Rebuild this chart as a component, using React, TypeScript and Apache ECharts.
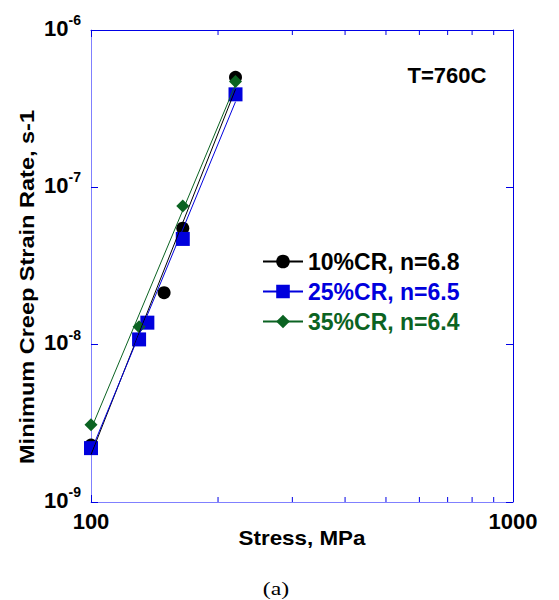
import React, { useEffect, useRef } from "react";
import * as echarts from "echarts";

// Measured data (stress in MPa, minimum creep strain rate in 1/s)
const stress10 = [100, 149, 165, 220];
const rate10 = [2.3e-9, 2.14e-8, 5.5e-8, 5.0e-7];
const stress25 = [100, 130, 136, 165, 220];
const rate25 = [2.2e-9, 1.08e-8, 1.38e-8, 4.7e-8, 3.9e-7];
const stress35 = [100, 130, 165, 220];
const rate35 = [3.1e-9, 1.3e-8, 7.6e-8, 4.7e-7];

// Power-law fit lines (endpoints)
const fitStress = [100, 220];
const fit10 = [2.0e-9, 4.2e-7];
const fit25 = [2.1e-9, 3.5e-7];
const fit35 = [2.9e-9, 4.5e-7];

// Legend names
const names = ["10%CR, n=6.8", "25%CR, n=6.5", "35%CR, n=6.4"];

// Minor ticks on the stress axis
const minorStress = [200, 300, 400, 500, 600, 700, 800, 900];

const FONT = "'Liberation Sans', Arial, sans-serif";
const BLACK = "#000000";
const BLUE = "#0000dd";
const GREEN = "#0b6322";
const AXIS_LIGHT = "#8080ff";
const AXIS_DARK = "#0000e6";

const zip = (xs: number[], ys: number[]) => xs.map((x, i) => [x, ys[i]]);

export default function App() {
  const ref = useRef<HTMLDivElement>(null);
  useEffect(() => {
    if (!ref.current) return;
    const chart = echarts.init(ref.current, null, { renderer: "svg" });
    const yLabelFmt = (v: number) => `{b|10}{s|${Math.round(Math.log10(v))}}`;
    const option: any = {
      animation: false,
      backgroundColor: "#ffffff",
      grid: { left: 91, right: 46, top: 30, bottom: 98 },
      xAxis: [
        {
          type: "log",
          logBase: 10,
          min: 100,
          max: 1000,
          position: "bottom",
          axisLine: { lineStyle: { color: AXIS_LIGHT, width: 1 } },
          axisTick: { inside: true, length: 7, lineStyle: { color: AXIS_DARK } },
          axisLabel: {
            formatter: (v: number) => String(Math.round(v)),
            fontSize: 22,
            fontWeight: "bold",
            color: "#000",
            fontFamily: FONT,
            margin: 8,
          },
          splitLine: { show: false },
        },
        {
          type: "log",
          logBase: 10,
          min: 100,
          max: 1000,
          position: "top",
          axisLine: { lineStyle: { color: AXIS_DARK, width: 1 } },
          axisTick: { inside: true, length: 7, lineStyle: { color: AXIS_DARK } },
          axisLabel: { show: false },
          splitLine: { show: false },
        },
      ],
      yAxis: [
        {
          type: "log",
          logBase: 10,
          min: 1e-9,
          max: 1e-6,
          position: "left",
          axisLine: { lineStyle: { color: AXIS_LIGHT, width: 1 } },
          axisTick: { inside: true, length: 7, lineStyle: { color: AXIS_DARK } },
          axisLabel: {
            formatter: yLabelFmt,
            margin: 10,
            color: "#000",
            padding: [0, 0, 8, 0],
            rich: {
              b: { fontSize: 22, fontWeight: "bold", fontFamily: FONT, color: "#000", lineHeight: 26, verticalAlign: "bottom" },
              s: { fontSize: 14, fontWeight: "bold", fontFamily: FONT, color: "#000", lineHeight: 14, verticalAlign: "top" },
            },
          },
          splitLine: { show: false },
        },
        {
          type: "log",
          logBase: 10,
          min: 1e-9,
          max: 1e-6,
          position: "right",
          axisLine: { lineStyle: { color: AXIS_DARK, width: 1 } },
          axisTick: { inside: true, length: 7, lineStyle: { color: AXIS_DARK } },
          axisLabel: { show: false },
          splitLine: { show: false },
        },
      ],
      legend: {
        orient: "vertical",
        left: 257,
        top: 245,
        itemWidth: 40,
        itemHeight: 17,
        itemGap: 7,
        selectedMode: false,
        textStyle: { fontSize: 23, fontWeight: "bold", fontFamily: FONT },
        data: [
          { name: names[0], textStyle: { color: BLACK } },
          { name: names[1], textStyle: { color: BLUE } },
          { name: names[2], textStyle: { color: GREEN } },
        ],
      },
      series: [
        {
          name: names[0],
          type: "line",
          data: zip(fitStress, fit10),
          symbol: "circle",
          showSymbol: false,
          lineStyle: { color: BLACK, width: 1 },
          itemStyle: { color: BLACK },
          silent: true,
        },
        {
          name: names[1],
          type: "line",
          data: zip(fitStress, fit25),
          symbol: "rect",
          showSymbol: false,
          lineStyle: { color: BLUE, width: 1 },
          itemStyle: { color: BLUE },
          silent: true,
        },
        {
          name: names[2],
          type: "line",
          data: zip(fitStress, fit35),
          symbol: "diamond",
          showSymbol: false,
          lineStyle: { color: GREEN, width: 1 },
          itemStyle: { color: GREEN },
          silent: true,
        },
        {
          name: "pts10",
          type: "scatter",
          data: zip(stress10, rate10),
          symbol: "circle",
          symbolSize: 13,
          itemStyle: { color: BLACK, opacity: 1 },
        },
        {
          name: "pts25",
          type: "scatter",
          data: zip(stress25, rate25),
          symbol: "rect",
          symbolSize: 14,
          itemStyle: { color: BLUE, opacity: 1 },
        },
        {
          name: "pts35",
          type: "scatter",
          data: zip(stress35, rate35),
          symbol: "diamond",
          symbolSize: 13,
          itemStyle: { color: GREEN, opacity: 1 },
        },
        {
          name: "minorBottom",
          type: "scatter",
          data: minorStress.map((s) => [s, 1e-9]),
          symbol: "rect",
          symbolSize: [1, 5],
          symbolOffset: [0, -2.5],
          itemStyle: { color: AXIS_DARK, opacity: 1 },
          clip: false,
          silent: true,
        },
        {
          name: "minorTop",
          type: "scatter",
          data: minorStress.map((s) => [s, 1e-6]),
          symbol: "rect",
          symbolSize: [1, 5],
          symbolOffset: [0, 2.5],
          itemStyle: { color: AXIS_DARK, opacity: 1 },
          clip: false,
          silent: true,
        },
      ],
      graphic: [
        {
          type: "text",
          x: 447,
          y: 75,
          style: {
            text: "T=760C",
            fontSize: 22,
            fontWeight: "bold",
            fontFamily: FONT,
            fill: "#000",
            align: "center",
            verticalAlign: "middle",
          },
        },
        {
          type: "text",
          x: 302,
          y: 538,
          scaleX: 1.12,
          style: {
            text: "Stress, MPa",
            fontSize: 20,
            fontWeight: "bold",
            fontFamily: FONT,
            fill: "#000",
            align: "center",
            verticalAlign: "middle",
          },
        },
        {
          type: "text",
          x: 27,
          y: 287,
          rotation: Math.PI / 2,
          scaleX: 1.12,
          style: {
            text: "Minimum Creep Strain Rate, s-1",
            fontSize: 21,
            fontWeight: "bold",
            fontFamily: FONT,
            fill: "#000",
            align: "center",
            verticalAlign: "middle",
          },
        },
        {
          type: "text",
          x: 276,
          y: 589,
          scaleX: 1.25,
          style: {
            text: "(a)",
            fontSize: 19,
            fontFamily: "'Liberation Serif', 'Times New Roman', serif",
            fill: "#000",
            align: "center",
            verticalAlign: "middle",
          },
        },
      ],
    };
    chart.setOption(option);
    return () => chart.dispose();
  }, []);
  return (
    <div
      ref={ref}
      style={{ position: "fixed", left: 0, top: 0, width: 559, height: 600, background: "#fff" }}
    />
  );
}
